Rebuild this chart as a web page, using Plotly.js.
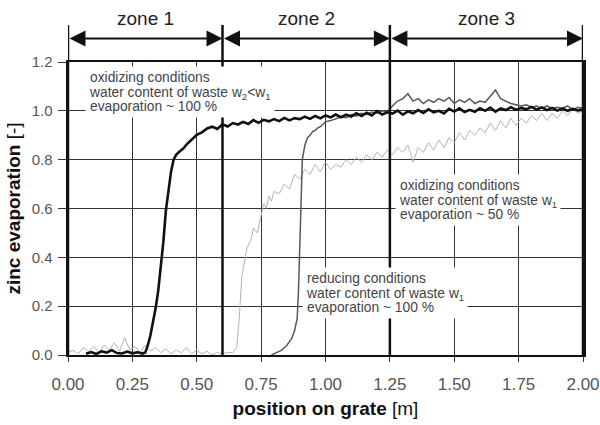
<!DOCTYPE html>
<html><head><meta charset="utf-8">
<script src="https://cdn.plot.ly/plotly-3.0.1.min.js"></script>
<style>html,body{margin:0;padding:0;background:#fff}#chart{width:600px;height:425px}</style>
</head><body><div id="chart"></div>
<script>
// Series 1: oxidizing conditions, water content w2<w1 (black)
const oxLowWaterX = [0.07,0.09,0.11,0.13,0.15,0.17,0.19,0.21,0.23,0.25,0.27,0.29,
  0.30,0.31,0.32,0.33,0.34,0.35,0.36,0.37,0.38,0.39,0.40,0.41,0.42,0.43,0.44,0.45,0.46,0.47,0.48,0.49,0.50,
  0.52,0.54,0.56,0.58,0.60,0.62,0.64,0.66,0.68,0.70,0.72,0.74,0.76,0.78,0.80,0.82,0.84,0.86,0.88,0.90,
  0.92,0.94,0.96,0.98,1.00,1.02,1.04,1.06,1.08,1.10,1.12,1.14,1.16,1.18,1.20,1.22,1.24,1.26,1.28,1.30,
  1.32,1.34,1.36,1.38,1.40,1.42,1.44,1.46,1.48,1.50,1.52,1.54,1.56,1.58,1.60,1.62,1.64,1.66,1.68,1.70,
  1.72,1.74,1.76,1.78,1.80,1.82,1.84,1.86,1.88,1.90,1.92,1.94,1.96,1.98,2.00];
const oxLowWaterY = [0.005,0.012,0.004,0.015,0.010,0.020,0.008,0.006,0.014,0.007,0.011,0.006,
  0.010,0.040,0.080,0.130,0.190,0.260,0.360,0.460,0.590,0.680,0.750,0.800,0.820,0.830,0.838,0.848,0.862,0.872,0.884,0.890,0.902,
  0.912,0.928,0.935,0.926,0.945,0.936,0.950,0.944,0.955,0.946,0.962,0.951,0.963,0.957,0.966,0.958,0.971,0.961,0.970,0.966,
  0.976,0.967,0.979,0.969,0.981,0.973,0.985,0.974,0.984,0.977,0.990,0.979,0.992,0.981,0.999,0.985,0.994,0.989,1.001,0.984,
  0.998,0.990,1.003,0.991,1.006,0.994,1.000,0.989,1.008,0.997,1.010,0.995,1.004,0.996,1.011,1.000,1.013,0.997,1.010,1.003,
  1.015,1.004,1.012,1.006,1.016,1.005,1.014,1.003,1.012,1.001,1.010,1.000,1.008,1.002,1.005];

// Series 2: oxidizing conditions, water content w1, ~50 % (light grey)
const oxHighWaterX = [0.00,0.02,0.04,0.06,0.08,0.10,0.12,0.14,0.16,0.18,0.20,0.22,0.24,0.26,0.28,0.30,0.32,
  0.34,0.36,0.38,0.40,0.42,0.44,0.46,0.48,0.50,0.52,0.54,0.56,0.58,0.60,0.62,0.64,
  0.655,0.665,0.675,0.685,0.695,0.71,0.72,0.735,0.75,0.76,0.77,0.78,0.79,0.80,
  0.82,0.84,0.86,0.88,0.90,0.92,0.94,0.96,0.98,1.00,1.02,1.04,1.06,1.08,1.10,1.12,1.14,1.16,1.18,1.20,
  1.22,1.24,1.26,1.28,1.30,1.32,1.34,1.36,1.38,1.40,1.42,1.44,1.46,1.48,1.50,1.52,1.54,1.56,1.58,1.60,
  1.62,1.64,1.66,1.68,1.70,1.72,1.74,1.76,1.78,1.80,1.82,1.84,1.86,1.88,1.90,1.92,1.94,1.96,1.98,2.00];
const oxHighWaterY = [0.010,0.020,0.005,0.030,0.015,0.035,0.010,0.040,0.020,0.050,0.015,0.070,0.020,0.035,0.010,0.040,0.015,
  0.030,0.010,0.025,0.005,0.020,0.010,0.030,0.005,0.020,0.005,0.015,0.000,0.010,0.005,0.010,0.010,
  0.03,0.15,0.32,0.38,0.44,0.47,0.52,0.50,0.57,0.62,0.60,0.65,0.63,0.67,
  0.66,0.70,0.68,0.74,0.72,0.76,0.74,0.78,0.75,0.79,0.76,0.78,0.77,0.80,0.78,0.81,0.79,0.82,0.80,0.83,
  0.81,0.84,0.82,0.85,0.83,0.86,0.79,0.85,0.83,0.87,0.84,0.88,0.85,0.89,0.87,0.91,0.88,0.92,0.90,0.93,
  0.91,0.95,0.92,0.96,0.93,0.97,0.94,0.97,0.95,0.98,0.96,0.99,0.96,0.99,0.97,1.00,0.98,1.01,0.99,1.00];

// Series 3: reducing conditions, water content w1, ~100 % (dark grey)
const reducingX = [0.79,0.81,0.83,0.85,0.87,0.88,0.89,0.895,0.90,0.905,0.91,0.92,0.93,0.94,0.95,0.96,0.97,0.98,0.99,1.00,
  1.02,1.04,1.06,1.08,1.10,1.12,1.14,1.16,1.18,1.20,1.22,1.24,1.26,1.28,1.30,1.32,1.34,1.36,1.38,1.40,
  1.42,1.44,1.46,1.48,1.50,1.52,1.54,1.56,1.58,1.60,1.62,1.64,1.66,1.68,1.70,1.72,1.74,1.76,1.78,1.80,
  1.82,1.84,1.86,1.88,1.90,1.92,1.94,1.96,1.98,2.00];
const reducingY = [0.00,0.01,0.02,0.04,0.07,0.10,0.15,0.26,0.45,0.65,0.80,0.86,0.89,0.90,0.915,0.92,0.93,0.935,0.945,0.955,
  0.960,0.968,0.975,0.972,0.985,0.978,0.990,0.985,0.995,0.990,1.000,0.995,1.020,1.040,1.050,1.070,1.040,1.050,1.030,1.045,
  1.035,1.050,1.040,1.055,1.030,1.045,1.035,1.050,1.030,1.040,1.035,1.060,1.085,1.050,1.040,1.030,1.025,1.020,1.025,1.015,
  1.020,1.010,1.020,1.010,1.015,1.010,1.020,1.005,1.015,1.010];

const xTickVals = [0,0.25,0.5,0.75,1.0,1.25,1.5,1.75,2.0];
const xTickText = ['0.00','0.25','0.50','0.75','1.00','1.25','1.50','1.75','2.00'];
const yTickVals = [0,0.2,0.4,0.6,0.8,1.0,1.2];
const yTickText = ['0.0','0.2','0.4','0.6','0.8','1.0','1.2'];
const zoneBounds = [0, 0.6, 1.25, 2.0];
const zoneLabels = ['zone 1','zone 2','zone 3'];
const noteTexts = [
  ['oxidizing conditions', 'water content of waste w<sub>2</sub>&lt;w<sub>1</sub>', 'evaporation ~ 100 %'],
  ['oxidizing conditions', 'water content of waste w<sub>1</sub>', 'evaporation ~ 50 %'],
  ['reducing conditions', 'water content of waste w<sub>1</sub>', 'evaporation ~ 100 %']
];

const traces = [
  {x: oxHighWaterX, y: oxHighWaterY, mode:'lines', line:{color:'#b4b4b4', width:1}, name:'oxidizing, w1'},
  {x: reducingX, y: reducingY, mode:'lines', line:{color:'#595959', width:1.5}, name:'reducing, w1'},
  {x: oxLowWaterX, y: oxLowWaterY, mode:'lines', line:{color:'#111111', width:2.6}, name:'oxidizing, w2<w1'}
];

const FONT = 'Liberation Sans, Arial, sans-serif';
const shapes = zoneBounds.map(b => ({type:'line', xref:'x', yref:'paper', x0:b, x1:b, y0:0, y1:1.126,
  line:{color:'#111', width:2.5}, layer:'above'}));

const annotations = [];
for (let i = 0; i < zoneLabels.length; i++) {
  const a = zoneBounds[i], b = zoneBounds[i+1];
  annotations.push({xref:'x', yref:'paper', x:(a+b)/2, y:1.150, text:zoneLabels[i], showarrow:false,
    font:{family:FONT, size:19, color:'#222'}, xanchor:'center', yanchor:'middle'});
  annotations.push({xref:'x', yref:'paper', x:b, y:1.080, axref:'x', ax:a, ayref:'pixel', ay:0, text:'',
    showarrow:true, arrowside:'end+start', arrowhead:2, startarrowhead:2, arrowsize:1.6, startarrowsize:1.6,
    arrowwidth:2, arrowcolor:'#111', standoff:0, startstandoff:0});
}
// note boxes: small base size gives the tight line spacing of the original, spans give glyph size
const notePos = [[0.066, 1.185], [1.27, 0.740], [0.909, 0.361]];
for (let i = 0; i < noteTexts.length; i++) {
  annotations.push({xref:'x', yref:'y', x:notePos[i][0], y:notePos[i][1], xanchor:'left', yanchor:'top', align:'left',
    showarrow:false, bgcolor:'#fff', borderpad:3, font:{family:FONT, size:11.3, color:'#444'},
    text: noteTexts[i].map(t => '<span style="font-size:13.8px">' + t + '</span>').join('<br>')});
}

const layout = {
  width:600, height:425,
  margin:{l:68, r:17, t:62, b:70},
  paper_bgcolor:'#fff', plot_bgcolor:'#fff',
  showlegend:false,
  font:{family:FONT},
  xaxis:{range:[0,2], tickvals:xTickVals, ticktext:xTickText, showgrid:true, gridcolor:'#333', gridwidth:1,
    zeroline:false, showline:true, linecolor:'#111', linewidth:2, mirror:true,
    ticks:'outside', ticklen:5, tickcolor:'#333', ticklabelstandoff:8,
    tickfont:{family:FONT, size:17, color:'#555'},
    title:{text:'<b>position on grate</b> [m]', font:{family:FONT, size:19, color:'#111'}, standoff:8}, automargin:false},
  yaxis:{range:[0,1.2], tickvals:yTickVals, ticktext:yTickText, showgrid:true, gridcolor:'#333', gridwidth:1,
    zeroline:false, showline:true, linecolor:'#111', linewidth:2.5, mirror:true,
    ticks:'outside', ticklen:8, tickcolor:'#333', ticklabelstandoff:2,
    tickfont:{family:FONT, size:15, color:'#555'},
    title:{text:'<b>zinc evaporation</b> [-]', font:{family:FONT, size:19, color:'#111'}, standoff:6}, automargin:false},
  shapes:shapes,
  annotations:annotations
};

Plotly.newPlot('chart', traces, layout, {displayModeBar:false, staticPlot:true});
</script>
</body></html>
